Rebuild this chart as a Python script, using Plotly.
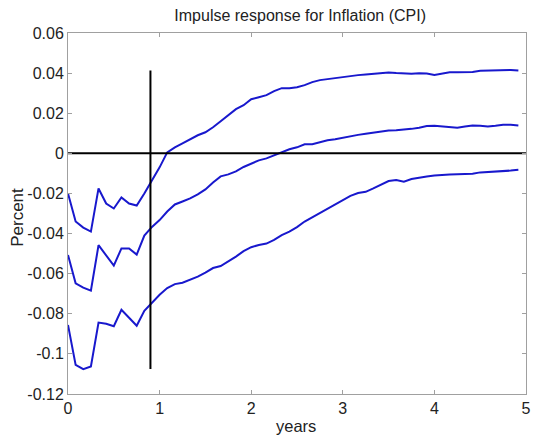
import plotly.graph_objects as go

# Horizon in years (monthly steps)
years = [i / 12 for i in range(60)]

upper = [-0.020, -0.034, -0.037, -0.039, -0.0175, -0.025, -0.0275, -0.022, -0.025, -0.026,
         -0.020, -0.0135, -0.007, 0.0005, 0.003, 0.005, 0.007, 0.009, 0.0105, 0.013,
         0.016, 0.019, 0.022, 0.024, 0.027, 0.028, 0.029, 0.031, 0.0325, 0.0325,
         0.033, 0.034, 0.0355, 0.0365, 0.037, 0.0378, 0.038, 0.0385, 0.039, 0.0393,
         0.0397, 0.040, 0.0403, 0.040, 0.0397, 0.0397, 0.0399, 0.0398, 0.0391, 0.0398,
         0.0404, 0.0404, 0.0404, 0.0406, 0.0412, 0.0413, 0.0414, 0.0416, 0.0416, 0.0413]

median = [-0.0507, -0.0648, -0.067, -0.0685, -0.0458, -0.051, -0.056, -0.0474, -0.0474, -0.0505,
          -0.041, -0.0367, -0.0333, -0.029, -0.0255, -0.024, -0.0225, -0.0205, -0.018, -0.0145,
          -0.0115, -0.0105, -0.009, -0.0068, -0.005, -0.0035, -0.0025, -0.001, 0.0005, 0.002,
          0.003, 0.0045, 0.0045, 0.0055, 0.0065, 0.007, 0.0078, 0.0085, 0.0092, 0.0098,
          0.0104, 0.011, 0.0114, 0.0115, 0.0118, 0.0122, 0.0128, 0.0136, 0.0137, 0.0134,
          0.0131, 0.0128, 0.0134, 0.0139, 0.0137, 0.0134, 0.0138, 0.0143, 0.0142, 0.0139]

lower = [-0.0856, -0.1055, -0.1076, -0.1063, -0.0844, -0.085, -0.0862, -0.078, -0.082, -0.086,
         -0.0785, -0.0745, -0.0705, -0.0672, -0.0652, -0.0645, -0.0632, -0.0615, -0.0595, -0.0572,
         -0.0562, -0.054, -0.0515, -0.0488, -0.0468, -0.0457, -0.045, -0.0432, -0.0408, -0.039,
         -0.0368, -0.034, -0.0318, -0.0298, -0.0278, -0.0256, -0.0234, -0.0212, -0.0198, -0.0192,
         -0.0175, -0.0155, -0.0138, -0.0133, -0.0141, -0.0128, -0.012, -0.0115, -0.011, -0.0106,
         -0.0105, -0.0104, -0.0104, -0.0102, -0.0095, -0.0093, -0.0093, -0.009, -0.0086, -0.0082]

# Reference lines
zero_x = [0, 5]
zero_y = [0, 0]
marker_x = [0.9, 0.9]
marker_y = [-0.1075, 0.0413]

x_ticks = [0, 1, 2, 3, 4, 5]
x_ticktext = ["0", "1", "2", "3", "4", "5"]
y_ticks = [0.06, 0.04, 0.02, 0, -0.02, -0.04, -0.06, -0.08, -0.1, -0.12]
y_ticktext = ["0.06", "0.04", "0.02", "0", "-0.02", "-0.04", "-0.06", "-0.08", "-0.1", "-0.12"]

blue = "rgb(24,24,205)"
font_family = "Liberation Sans, Arial, sans-serif"
text_color = "#222"

fig = go.Figure()
for s in (upper, median, lower):
    fig.add_trace(go.Scatter(x=years, y=s, mode="lines",
                             line=dict(color=blue, width=2), showlegend=False))
fig.add_trace(go.Scatter(x=zero_x, y=zero_y, mode="lines",
                         line=dict(color="black", width=2), showlegend=False))
fig.add_trace(go.Scatter(x=marker_x, y=marker_y, mode="lines",
                         line=dict(color="black", width=2), showlegend=False))

axis_common = dict(showgrid=False, zeroline=False, showline=True, mirror="ticks",
                   linecolor="#a0a0a0", linewidth=1, ticks="inside", ticklen=4,
                   tickcolor="#a0a0a0",
                   tickfont=dict(size=16, color=text_color, family=font_family))

fig.update_xaxes(range=[0, 5], tickvals=x_ticks, ticktext=x_ticktext, **axis_common)
fig.update_yaxes(range=[-0.12, 0.06], tickvals=y_ticks, ticktext=y_ticktext, **axis_common)

fig.update_layout(
    width=536, height=441,
    margin=dict(l=68, r=5, t=33, b=47),
    paper_bgcolor="white", plot_bgcolor="white",
    font=dict(family=font_family, color=text_color),
    title=dict(text="Impulse response for Inflation (CPI)", x=0.56, xanchor="center",
               y=0.965, yanchor="middle", font=dict(size=16, family=font_family, color=text_color)),
    annotations=[
        dict(text="years", xref="paper", yref="paper", x=0.498, y=-0.058, yanchor="top",
             xanchor="center", showarrow=False,
             font=dict(size=16.5, family=font_family, color=text_color)),
        dict(text="Percent", xref="paper", yref="paper", x=-0.112, y=0.49, textangle=-90,
             xanchor="center", yanchor="middle", showarrow=False,
             font=dict(size=17, family=font_family, color=text_color)),
    ],
)

fig.write_html("out.html", config={"displayModeBar": False},
               post_script="document.body.style.margin='0px';")
